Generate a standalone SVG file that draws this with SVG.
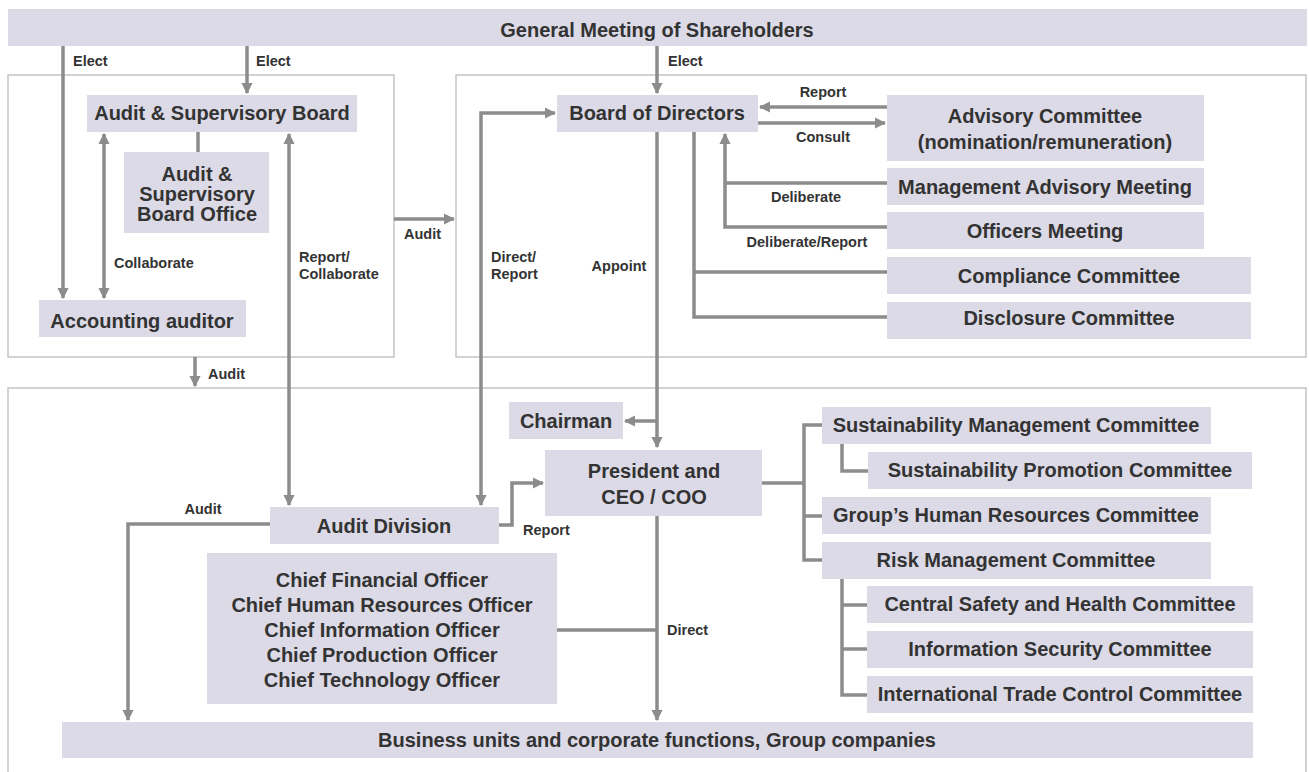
<svg xmlns="http://www.w3.org/2000/svg" width="1309" height="772" viewBox="0 0 1309 772">
  <style>
    .box { fill: #dcdae6; }
    .panel { fill: none; stroke: #c4c4c4; stroke-width: 1.5; }
    .t { font-family: "Liberation Sans", Arial, sans-serif; font-weight: bold; font-size: 20px; fill: #333333; text-anchor: middle; }
    .lbl { font-family: "Liberation Sans", Arial, sans-serif; font-weight: bold; font-size: 14.5px; fill: #333333; }
    .c { text-anchor: middle; }
    .ln { fill: none; stroke: #8c8c8c; stroke-width: 3.5; }
    .ar { fill: none; stroke: #8c8c8c; stroke-width: 3.5; marker-end: url(#head); }
    .ar2 { fill: none; stroke: #8c8c8c; stroke-width: 3.5; marker-start: url(#headStart); marker-end: url(#head); }
  </style>
  <defs>
    <marker id="head" viewBox="0 0 10 10" refX="9" refY="5" markerWidth="3.2" markerHeight="3.2" orient="auto" markerUnits="strokeWidth">
      <path d="M0,0 L10,5 L0,10 Z" fill="#8c8c8c"/>
    </marker>
    <marker id="headStart" viewBox="0 0 10 10" refX="1" refY="5" markerWidth="3.2" markerHeight="3.2" orient="auto" markerUnits="strokeWidth">
      <path d="M10,0 L0,5 L10,10 Z" fill="#8c8c8c"/>
    </marker>
  </defs>

  <rect width="1309" height="772" fill="#ffffff"/>

  <!-- panels -->
  <g id="panels">
    <rect class="panel" x="8" y="75" width="386" height="282"/>
    <rect class="panel" x="456" y="75" width="850" height="282"/>
    <rect class="panel" x="8" y="388" width="1298" height="400"/>
  </g>

  <!-- connectors -->
  <g id="connectors">
    <!-- Elect -->
    <path class="ar" d="M63,46 V298"/>
    <path class="ar" d="M247,46 V93"/>
    <path class="ar" d="M657,46 V93"/>
    <!-- Audit & Supervisory Board side -->
    <path class="ln" d="M198,132 V152"/>
    <path class="ar2" d="M104,134 V298"/>
    <path class="ar2" d="M289,134 V505"/>
    <path class="ar" d="M394,219 H454"/>
    <path class="ar" d="M195,357 V386"/>
    <!-- Board of Directors side -->
    <path class="ar" d="M887,107 H760"/>
    <path class="ar" d="M758,123 H885"/>
    <path class="ar" d="M887,227 H725 V134"/>
    <path class="ln" d="M725,183 H887"/>
    <path class="ln" d="M694,132 V317 H887"/>
    <path class="ln" d="M694,272 H887"/>
    <path class="ar2" d="M555,113 H481 V505"/>
    <path class="ar" d="M657,132 V447"/>
    <path class="ar" d="M657,421 H625"/>
    <!-- Audit Division -->
    <path class="ar" d="M499,525 H512 V483 H543"/>
    <path class="ar" d="M270,524 H128 V720"/>
    <!-- President -->
    <path class="ar" d="M657,516 V720"/>
    <path class="ln" d="M557,630 H657"/>
    <path class="ln" d="M762,483 H804"/>
    <path class="ln" d="M822,425 H804 V560 H822"/>
    <path class="ln" d="M804,516 H822"/>
    <path class="ln" d="M842,444 V471 H868"/>
    <path class="ln" d="M842,579 V695 H867"/>
    <path class="ln" d="M842,605 H867"/>
    <path class="ln" d="M842,649 H867"/>
  </g>

  <!-- connector labels -->
  <g id="labels">
    <text class="lbl" x="73" y="66">Elect</text>
    <text class="lbl" x="256" y="66">Elect</text>
    <text class="lbl" x="668" y="66">Elect</text>
    <text class="lbl" x="114" y="268">Collaborate</text>
    <text class="lbl" x="299" y="262">Report/</text>
    <text class="lbl" x="299" y="279">Collaborate</text>
    <text class="lbl" x="404" y="239">Audit</text>
    <text class="lbl" x="208" y="379">Audit</text>
    <text class="lbl c" x="823" y="97">Report</text>
    <text class="lbl c" x="823" y="142">Consult</text>
    <text class="lbl c" x="806" y="202">Deliberate</text>
    <text class="lbl c" x="807" y="247">Deliberate/Report</text>
    <text class="lbl" x="491" y="262">Direct/</text>
    <text class="lbl" x="491" y="279">Report</text>
    <text class="lbl c" x="619" y="271">Appoint</text>
    <text class="lbl c" x="203" y="514">Audit</text>
    <text class="lbl" x="523" y="535">Report</text>
    <text class="lbl" x="667" y="635">Direct</text>
  </g>

  <g id="gms">
    <rect class="box" x="8" y="9" width="1299" height="37"/>
    <text class="t" x="657" y="37">General Meeting of Shareholders</text>
  </g>
  <g id="asb">
    <rect class="box" x="87" y="95" width="270" height="37"/>
    <text class="t" x="222" y="120">Audit &amp; Supervisory Board</text>
  </g>
  <g id="asb-office">
    <rect class="box" x="124" y="152" width="145" height="81"/>
    <text class="t" x="197" y="181">Audit &amp;</text>
    <text class="t" x="197" y="201">Supervisory</text>
    <text class="t" x="197" y="221">Board Office</text>
  </g>
  <g id="accounting-auditor">
    <rect class="box" x="39" y="300" width="207" height="37"/>
    <text class="t" x="142" y="328">Accounting auditor</text>
  </g>
  <g id="board">
    <rect class="box" x="557" y="95" width="201" height="37"/>
    <text class="t" x="657" y="120">Board of Directors</text>
  </g>
  <g id="advisory">
    <rect class="box" x="887" y="95" width="317" height="66"/>
    <text class="t" x="1045" y="123">Advisory Committee</text>
    <text class="t" x="1045" y="149">(nomination/remuneration)</text>
  </g>
  <g id="mgmt-advisory">
    <rect class="box" x="887" y="168" width="317" height="37"/>
    <text class="t" x="1045" y="194">Management Advisory Meeting</text>
  </g>
  <g id="officers">
    <rect class="box" x="887" y="212" width="317" height="37"/>
    <text class="t" x="1045" y="238">Officers Meeting</text>
  </g>
  <g id="compliance">
    <rect class="box" x="887" y="257" width="364" height="37"/>
    <text class="t" x="1069" y="283">Compliance Committee</text>
  </g>
  <g id="disclosure">
    <rect class="box" x="887" y="302" width="364" height="37"/>
    <text class="t" x="1069" y="325">Disclosure Committee</text>
  </g>
  <g id="chairman">
    <rect class="box" x="509" y="402" width="114" height="37"/>
    <text class="t" x="566" y="428">Chairman</text>
  </g>
  <g id="president">
    <rect class="box" x="545" y="450" width="217" height="66"/>
    <text class="t" x="654" y="478">President and</text>
    <text class="t" x="654" y="504">CEO / COO</text>
  </g>
  <g id="audit-division">
    <rect class="box" x="270" y="507" width="229" height="37"/>
    <text class="t" x="384" y="533">Audit Division</text>
  </g>
  <g id="chiefs">
    <rect class="box" x="207" y="553" width="350" height="151"/>
    <text class="t" x="382" y="587">Chief Financial Officer</text>
    <text class="t" x="382" y="612">Chief Human Resources Officer</text>
    <text class="t" x="382" y="637">Chief Information Officer</text>
    <text class="t" x="382" y="662">Chief Production Officer</text>
    <text class="t" x="382" y="687">Chief Technology Officer</text>
  </g>
  <g id="sust-mgmt">
    <rect class="box" x="822" y="407" width="389" height="37"/>
    <text class="t" x="1016" y="432">Sustainability Management Committee</text>
  </g>
  <g id="sust-promo">
    <rect class="box" x="868" y="452" width="384" height="37"/>
    <text class="t" x="1060" y="477">Sustainability Promotion Committee</text>
  </g>
  <g id="group-hr">
    <rect class="box" x="822" y="497" width="389" height="37"/>
    <text class="t" x="1016" y="522">Group’s Human Resources Committee</text>
  </g>
  <g id="risk">
    <rect class="box" x="822" y="542" width="389" height="37"/>
    <text class="t" x="1016" y="567">Risk Management Committee</text>
  </g>
  <g id="safety-health">
    <rect class="box" x="867" y="586" width="386" height="37"/>
    <text class="t" x="1060" y="611">Central Safety and Health Committee</text>
  </g>
  <g id="info-security">
    <rect class="box" x="867" y="631" width="386" height="37"/>
    <text class="t" x="1060" y="656">Information Security Committee</text>
  </g>
  <g id="trade-control">
    <rect class="box" x="867" y="676" width="386" height="37"/>
    <text class="t" x="1060" y="701">International Trade Control Committee</text>
  </g>
  <g id="business-units">
    <rect class="box" x="62" y="722" width="1191" height="36"/>
    <text class="t" x="657" y="747">Business units and corporate functions, Group companies</text>
  </g>
</svg>
